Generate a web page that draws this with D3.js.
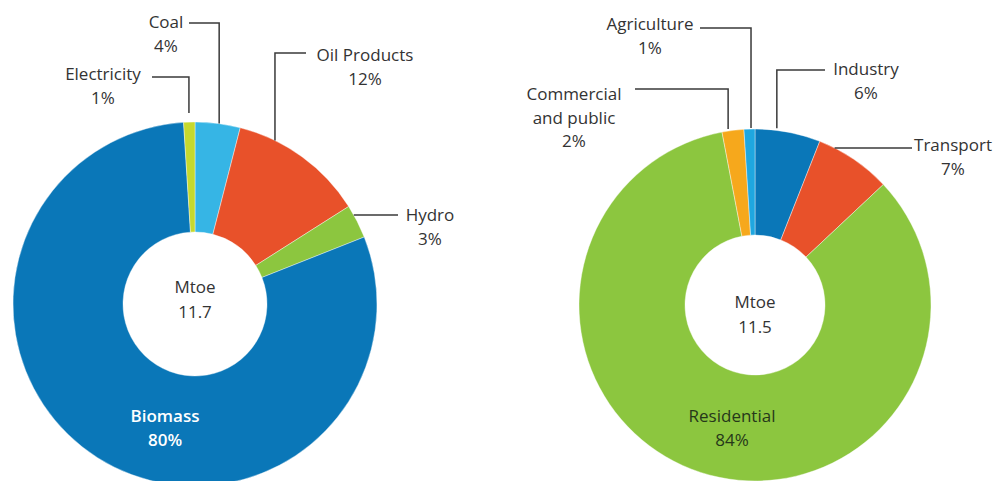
<!DOCTYPE html>
<html>
<head>
<meta charset="utf-8">
<script src="https://cdn.jsdelivr.net/npm/d3@7"></script>
<style>
  body { margin: 0; background: #fff; }
  svg text { font-family: "Open Sans", sans-serif; font-size: 17px; font-weight: 500; fill: #333; }
</style>
</head>
<body>
<svg width="993" height="481"></svg>
<script>
// left donut: supply by source
const supplyNames = ["Coal", "Oil Products", "Hydro", "Biomass", "Electricity"];
const supplyValues = [4, 12, 3, 80, 1];
const supplyColors = ["#36b5e5", "#e8512a", "#8cc63f", "#0a77b8", "#c6d92e"];
const supplyTotal = "11.7";

// right donut: consumption by sector
const useNames = ["Industry", "Transport", "Residential", "Commercial and public", "Agriculture"];
const useValues = [6, 7, 84, 2, 1];
const useColors = ["#0a77b8", "#e8512a", "#8cc63f", "#f6a81c", "#1fa7e0"];
const useTotal = "11.5";

const svg = d3.select("svg");

// label layout: text lines at (x, y); leader either elbow (vertical from arc up to lineY, then over to endX)
// or flat (horizontal from arc to endX); t = where in the slice the leader touches
const supplyLayout = [
  { x: 166, y: 28, lines: ["Coal", "4%"], type: "elbow", t: 0.53, lineY: 23, endX: 189 },
  { x: 365, y: 61, lines: ["Oil Products", "12%"], type: "elbow", t: 0.27, lineY: 53, endX: 306 },
  { x: 430, y: 221, lines: ["Hydro", "3%"], type: "flat", t: 0.29, endX: 398 },
  { x: 165, y: 422, lines: ["Biomass", "80%"], type: "inside", fill: "#fff", weight: 600 },
  { x: 103, y: 80, lines: ["Electricity", "1%"], type: "elbow", t: 0.47, lineY: 77, endX: 152, gap: 9 }
];
const useLayout = [
  { x: 866, y: 75, lines: ["Industry", "6%"], type: "elbow", t: 0.33, lineY: 70, endX: 825, gap: 2 },
  { x: 953, y: 151, lines: ["Transport", "7%"], type: "flat", t: 0.21, endX: 912 },
  { x: 732, y: 422, lines: ["Residential", "84%"], type: "inside", fill: "#26381a", weight: 500 },
  { x: 574, y: 100, lines: ["Commercial", "and public", "2%"], type: "elbow", t: 0.28, lineY: 89, endX: 635, gap: 2 },
  { x: 650, y: 30, lines: ["Agriculture", "1%"], type: "elbow", t: 0.64, lineY: 28, endX: 700, gap: 1 }
];

function donut(cx, cy, rOuter, rInner, names, values, colors, layout, total, centerDy) {
  const g = svg.append("g").attr("transform", `translate(${cx},${cy})`);
  const pie = d3.pie().sort(null).value(d => d.v);
  const arcs = pie(values.map((v, i) => ({ v: v, name: names[i], c: colors[i] })));
  const arc = d3.arc().innerRadius(rInner).outerRadius(rOuter);

  g.selectAll("path.slice")
    .data(arcs)
    .enter()
    .append("path")
      .attr("class", "slice")
      .attr("d", arc)
      .attr("fill", d => d.data.c)
      .attr("stroke", "#fff")
      .attr("stroke-width", 0.4);

  // leaders
  arcs.forEach((a, i) => {
    const L = layout[i];
    if (L.type === "inside") return;
    const ang = a.startAngle + L.t * (a.endAngle - a.startAngle);
    const px = rOuter * Math.sin(ang);
    const py = -rOuter * Math.cos(ang) - (L.gap || 0);
    let pts;
    if (L.type === "elbow") {
      pts = [[L.endX - cx, L.lineY - cy], [px, L.lineY - cy], [px, py]];
    } else {
      pts = [[px, py], [L.endX - cx, py]];
    }
    g.append("path")
      .attr("d", d3.line()(pts))
      .attr("fill", "none")
      .attr("stroke", "#3a3a3a")
      .attr("stroke-width", 1.5);
  });

  // labels
  layout.forEach(L => {
    const t = svg.append("text")
      .attr("text-anchor", "middle")
      .style("fill", L.fill || null)
      .style("font-weight", L.weight || null);
    L.lines.forEach((s, j) => {
      t.append("tspan").attr("x", L.x).attr("y", L.y + j * 23.5).text(s);
    });
  });

  const c = g.append("text").attr("text-anchor", "middle");
  c.append("tspan").attr("x", 0).attr("y", centerDy).text("Mtoe");
  c.append("tspan").attr("x", 0).attr("y", centerDy + 25).text(total);
}

donut(195, 304, 182, 72, supplyNames, supplyValues, supplyColors, supplyLayout, supplyTotal, -11);
donut(755, 305, 176, 70, useNames, useValues, useColors, useLayout, useTotal, 3);
</script>
</body>
</html>
